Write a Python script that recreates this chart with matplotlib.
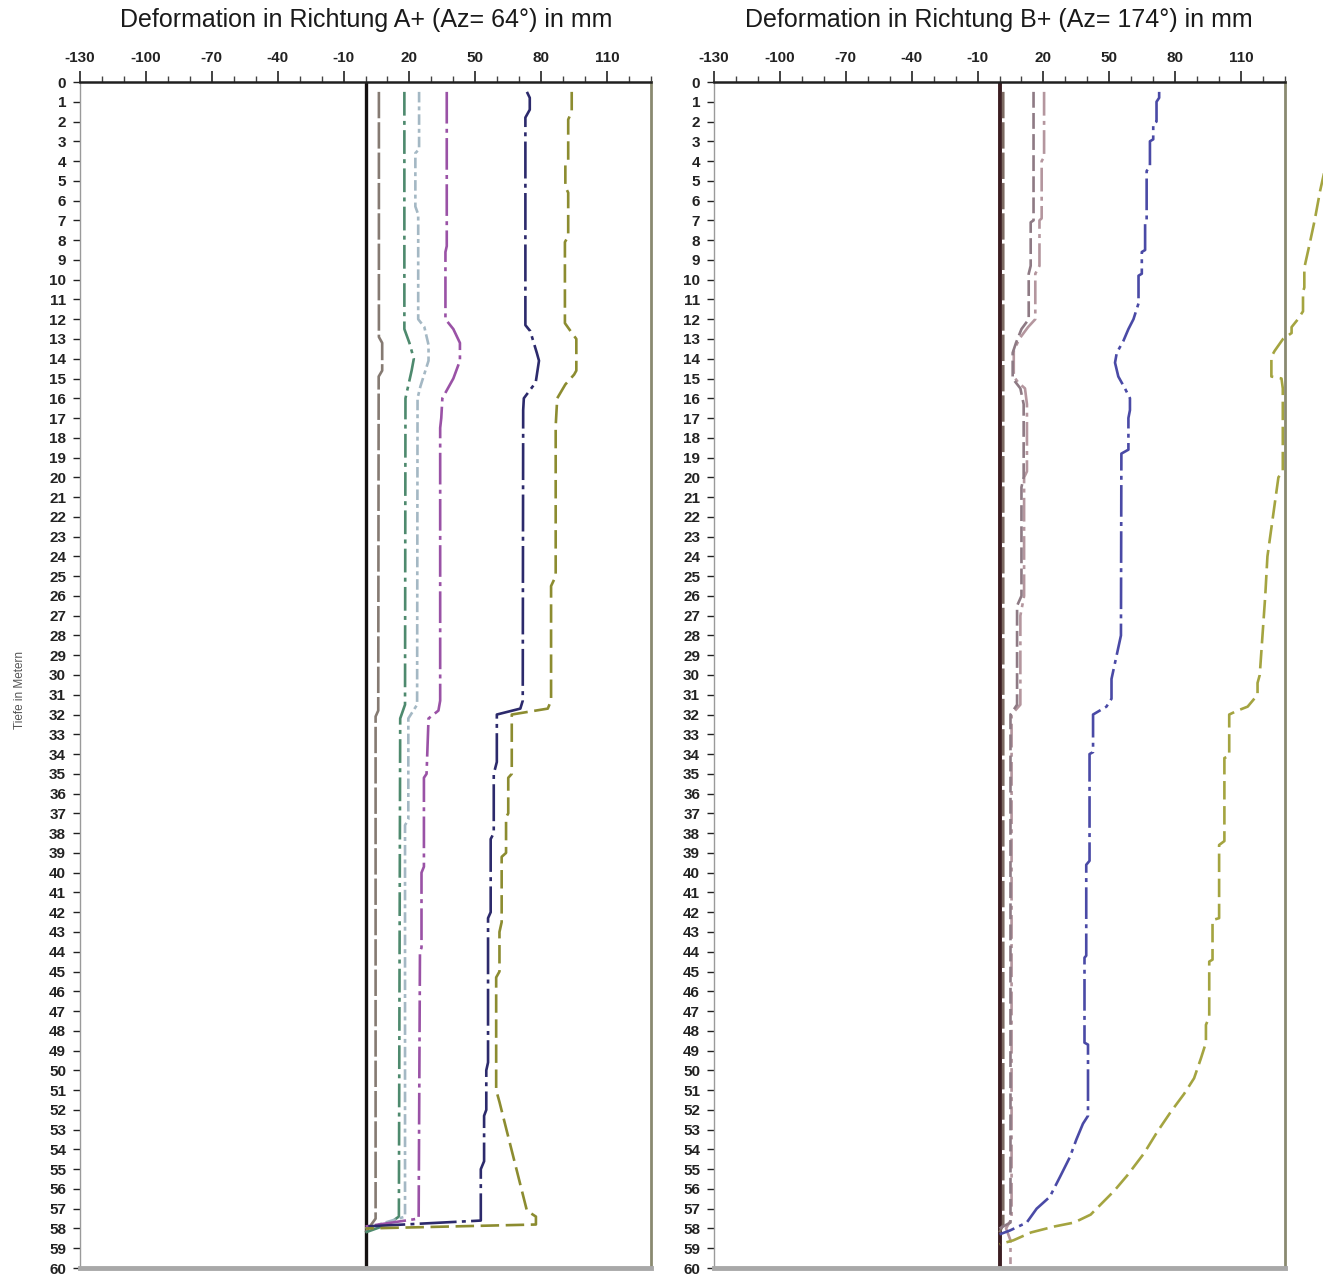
import matplotlib.pyplot as plt
from matplotlib.ticker import MultipleLocator

plt.rcParams['font.family'] = ['Liberation Sans', 'DejaVu Sans']
plt.rcParams['axes.unicode_minus'] = False

TITLE_A = "Deformation in Richtung A+ (Az= 64°) in mm"
TITLE_B = "Deformation in Richtung B+ (Az= 174°) in mm"
YLABEL = "Tiefe in Metern"
X_TICKS = [-130, -100, -70, -40, -10, 20, 50, 80, 110]
DEPTH_TICKS = list(range(0, 61))

# ---- Richtung A ----
a0_depth = [0, 60]
a0_val = [0, 0]
a1_depth = [0.5, 12.9, 13.2, 14.6, 14.9, 31.8, 32.1, 57.5, 58.2]
a1_val = [6.1, 6.1, 7.6, 7.6, 6.0, 5.8, 4.6, 4.6, 0]
a2_depth = [0.5, 12.5, 13.2, 14.0, 14.6, 15.2, 16.0, 31.5, 32.2, 57.4, 57.8, 58.2]
a2_val = [17.7, 17.7, 20.0, 22.0, 21.0, 19.8, 18.2, 18.0, 15.8, 15.2, 10.0, 0]
a3_depth = [0.5, 3.4, 3.6, 6.3, 6.7, 12.0, 12.4, 13.3, 14.1, 14.7, 15.4, 16.0, 31.5,
            32.2, 37.3, 37.6, 57.4, 58.0]
a3_val = [24.4, 24.4, 22.7, 22.7, 24.0, 24.0, 26.8, 28.7, 28.7, 27.0, 25.0, 23.7, 23.5,
          19.5, 19.5, 18.0, 18.0, 0]
a4_depth = [0.5, 8.3, 8.6, 12.0, 12.5, 13.2, 14.1, 15.0, 16.0, 17.0, 17.5, 31.3, 31.8,
            32.2, 35.0, 35.2, 39.7, 40.0, 43.8, 44.0, 57.5, 57.9]
a4_val = [37.0, 37.0, 36.4, 36.4, 40.0, 43.0, 43.0, 40.0, 35.0, 34.5, 34.0, 34.0, 33.2,
          28.7, 27.8, 26.6, 26.6, 25.5, 25.5, 24.8, 24.2, 0]
a5_depth = [0.5, 0.8, 1.4, 1.8, 12.3, 12.6, 13.7, 14.1, 15.2, 16.0, 16.6, 31.3, 31.7,
            32.0, 34.4, 35.0, 38.0, 38.3, 42.0, 42.3, 49.6, 50.0, 52.0, 52.3, 54.6,
            55.0, 57.6, 57.9]
a5_val = [73.5, 74.8, 74.8, 72.8, 72.8, 75.0, 78.0, 79.0, 77.5, 72.1, 71.8, 71.6, 70.5,
          59.8, 59.8, 58.4, 58.4, 57.0, 57.0, 55.8, 55.8, 55.0, 55.0, 54.0, 54.0,
          52.5, 52.5, 0]
a6_depth = [0.5, 1.5, 1.9, 4.0, 4.2, 5.3, 5.6, 7.8, 8.1, 12.2, 12.7, 13.0, 14.6, 14.8,
            15.3, 16.0, 17.4, 25.0, 25.5, 31.3, 31.7, 32.0, 35.0, 35.2, 37.0, 37.2,
            39.0, 39.2, 42.5, 43.0, 45.0, 45.3, 51.0, 51.6, 57.1, 57.4, 57.8, 58.0]
a6_val = [93.9, 93.9, 92.3, 92.3, 91.0, 91.0, 92.3, 92.3, 90.8, 90.8, 94.0, 96.0, 96.0,
          95.0, 91.0, 87.3, 86.6, 86.6, 84.5, 84.5, 83.0, 66.6, 66.6, 65.0, 65.0, 64.0,
          64.0, 62.0, 62.0, 61.0, 61.0, 59.5, 59.5, 61.0, 73.5, 77.6, 77.6, 0]

# ---- Richtung B ----
b0_depth = [0, 60]
b0_val = [0, 0]
b1_depth = [0.5, 57.8, 58.2]
b1_val = [1.7, 1.7, 0]
b2_depth = [0.5, 3.8, 4.0, 6.9, 7.0, 9.3, 9.7, 12.0, 12.4, 13.0, 13.6, 14.9, 15.2, 15.5,
            16.3, 19.7, 20.0, 26.0, 27.0, 31.5, 32.0, 57.5, 58.0, 58.6, 59.8]
b2_val = [20.3, 20.3, 19.2, 19.2, 18.2, 18.2, 16.3, 16.3, 13.0, 9.0, 6.5, 6.5, 8.5, 11.6,
          12.5, 12.5, 11.2, 11.2, 9.5, 9.5, 5.5, 5.5, 3.0, 5.0, 5.0]
b3_depth = [0.5, 7.0, 7.1, 9.3, 9.7, 12.0, 12.5, 13.2, 13.7, 15.0, 15.5, 16.3, 20.0,
            20.5, 26.0, 26.5, 31.5, 32.0, 57.7, 58.0]
b3_val = [15.5, 15.5, 14.2, 14.2, 13.3, 13.3, 10.0, 7.5, 6.0, 6.0, 9.5, 11.0, 11.0,
          10.0, 10.0, 8.0, 8.0, 5.0, 5.0, 0]
b4_depth = [0.5, 0.8, 1.0, 2.0, 2.1, 2.9, 3.0, 4.3, 4.5, 7.0, 7.1, 8.5, 8.6, 9.7, 9.8,
            11.2, 12.0, 12.5, 13.1, 13.7, 14.2, 14.9, 15.5, 16.0, 16.6, 17.0, 18.6,
            18.8, 28.0, 30.2, 31.2, 31.6, 32.0, 33.9, 34.0, 39.4, 39.6, 44.2, 44.3,
            48.6, 48.7, 52.3, 52.7, 53.5, 54.4, 55.4, 56.4, 57.0, 57.7, 58.1, 58.3]
b4_val = [72.7, 72.7, 71.5, 71.5, 70.0, 70.0, 68.5, 68.5, 67.0, 67.0, 66.3, 66.3, 64.8,
          64.8, 63.3, 63.3, 61.0, 58.7, 56.4, 53.4, 52.6, 54.1, 57.1, 59.4, 59.4, 58.7,
          58.7, 55.5, 55.3, 51.0, 51.0, 48.7, 42.6, 42.6, 41.0, 41.0, 39.5, 39.5, 38.7,
          38.7, 40.3, 40.3, 38.0, 35.0, 32.0, 27.5, 22.9, 16.9, 12.4, 4.8, 0]
b5_depth = [0.5, 2.0, 4.0, 5.5, 7.0, 8.3, 9.4, 10.4, 10.6, 11.6, 12.0, 12.4, 12.7, 13.0,
            13.6, 13.9, 14.9, 15.0, 15.5, 19.7, 20.0, 22.0, 24.0, 26.0, 30.0, 30.4,
            31.0, 31.6, 31.8, 32.0, 34.1, 34.2, 38.4, 38.6, 42.3, 42.4, 44.4, 44.5,
            47.3, 47.7, 48.6, 49.4, 50.4, 51.2, 52.1, 53.1, 54.2, 55.3, 56.1, 57.3,
            57.7, 57.9, 58.2, 58.6, 58.8]
b5_val = [156.0, 153.0, 149.0, 146.0, 143.5, 141.0, 138.8, 138.8, 138.2, 138.2, 135.9,
          133.0, 133.0, 129.1, 125.3, 123.8, 123.8, 128.4, 129.0, 129.0, 127.0, 124.5,
          122.0, 121.0, 118.5, 117.5, 117.5, 113.0, 108.4, 104.6, 104.6, 102.4, 102.4,
          100.0, 100.0, 97.0, 97.0, 95.5, 95.5, 94.0, 94.0, 91.7, 88.6, 84.0, 78.0,
          71.9, 65.8, 58.3, 52.2, 41.5, 34.0, 25.0, 14.4, 6.3, 0]

fig = plt.figure(figsize=(13.23, 12.79), dpi=100)
ax_a = fig.add_axes([80 / 1323, 1 - 1268 / 1279, 571 / 1323, 1186 / 1279])
ax_b = fig.add_axes([714 / 1323, 1 - 1268 / 1279, 571 / 1323, 1186 / 1279])

tick_family = ['Liberation Sans Narrow', 'Liberation Sans', 'DejaVu Sans']


def setup(ax):
    ax.set_xlim(-130, 130)
    ax.set_ylim(60, 0)
    ax.xaxis.tick_top()
    ax.set_xticks(X_TICKS)
    ax.xaxis.set_minor_locator(MultipleLocator(10))
    ax.set_yticks(DEPTH_TICKS)
    ax.tick_params(axis='x', which='major', direction='out', length=8, width=1.2, pad=4,
                   colors='#222222')
    ax.tick_params(axis='x', which='minor', direction='out', length=4, width=1.0,
                   colors='#444444')
    ax.tick_params(axis='y', direction='out', length=5, width=1.0, pad=5,
                   colors='#222222')
    for lab in ax.get_xticklabels() + ax.get_yticklabels():
        lab.set_fontfamily(tick_family)
        lab.set_fontweight('bold')
        lab.set_fontsize(11)
    ax.spines['top'].set_color('#202020')
    ax.spines['top'].set_linewidth(1.8)
    ax.spines['left'].set_color('#9a9a9a')
    ax.spines['left'].set_linewidth(1.0)
    ax.spines['right'].set_color('#8a8a70')
    ax.spines['right'].set_linewidth(2.0)
    ax.spines['bottom'].set_color('#a8a8a8')
    ax.spines['bottom'].set_linewidth(3.5)


setup(ax_a)
setup(ax_b)

lw = 1.9
ax_a.plot(a0_val, a0_depth, color='#141010', lw=2.4, solid_capstyle='butt')
ax_a.plot(a1_val, a1_depth, color='#857a72', lw=lw, linestyle=(0, (10, 1.5)))
ax_a.plot(a2_val, a2_depth, color='#4e8a6e', lw=lw, linestyle=(0, (9, 2, 1.5, 2)))
ax_a.plot(a3_val, a3_depth, color='#a4b8c4', lw=lw, linestyle=(0, (4, 1.5, 1.5, 1.5)))
ax_a.plot(a4_val, a4_depth, color='#9a52a6', lw=lw, linestyle=(0, (12, 2, 1.5, 2)))
ax_a.plot(a5_val, a5_depth, color='#2c2a6c', lw=lw, linestyle=(0, (14, 2, 1.5, 2)))
ax_a.plot(a6_val, a6_depth, color='#8c8c30', lw=lw, linestyle=(0, (7, 2.5)))

ax_b.plot(b0_val, b0_depth, color='#3c1e22', lw=2.8, solid_capstyle='butt')
ax_b.plot(b1_val, b1_depth, color='#7c6a62', lw=lw, linestyle=(0, (10, 1.5)))
ax_b.plot(b2_val, b2_depth, color='#b4969e', lw=lw, linestyle=(0, (9, 2, 1.5, 2)))
ax_b.plot(b3_val, b3_depth, color='#8e7a84', lw=lw, linestyle=(0, (6, 2)))
ax_b.plot(b4_val, b4_depth, color='#4a4aa6', lw=lw, linestyle=(0, (12, 2, 1.5, 2)))
ax_b.plot(b5_val, b5_depth, color='#a4a440', lw=lw, linestyle=(0, (7, 2.5)),
          clip_on=False)

fig.text(366 / 1323, 1 - 20 / 1279, TITLE_A, ha='center', va='center', fontsize=18,
         color='#1a1a1a')
fig.text(999 / 1323, 1 - 20 / 1279, TITLE_B, ha='center', va='center', fontsize=18,
         color='#1a1a1a')
fig.text(20 / 1323, 1 - 690 / 1279, YLABEL, rotation=90, ha='center', va='center',
         fontsize=8.5, color='#555555')

fig.savefig('out.png', dpi=100)
